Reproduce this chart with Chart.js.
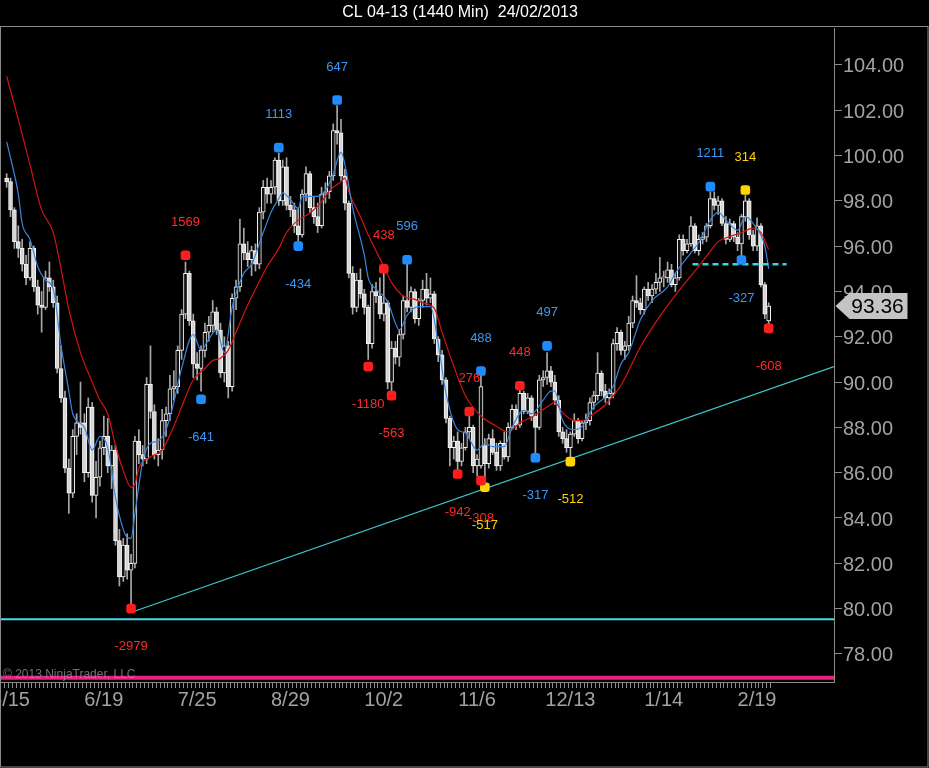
<!DOCTYPE html>
<html lang="en">
<head>
<meta charset="utf-8">
<title>CL 04-13 (1440 Min)</title>
<script src="https://cdn.jsdelivr.net/npm/chart.js@4.4.1/dist/chart.umd.min.js"></script>
<style>
  html, body { margin: 0; padding: 0; background: #000; overflow: hidden; }
</style>
</head>
<body>
<canvas id="chart" width="929" height="768"></canvas>
<script>
// daily bars, index 0 = 5/14/2012 ... 196 = 2/22/2013
const opens = [
  99.0, 98.85, 97.6, 96.2, 95.9, 95.2, 94.6, 95.9, 94.2, 93.4,
  93.3, 94.6, 94.2, 93.5, 90.6, 89.3, 86.2, 85.1, 87.6, 88.2,
  88.2, 86.0, 88.9, 85.0, 85.8, 87.1, 87.6, 86.3, 87.0, 83.0,
  81.4, 82.8, 81.7, 82.0, 87.4, 86.8, 86.6, 89.9, 88.7, 86.8,
  87.0, 88.3, 88.6, 89.7, 89.8, 91.4, 93.0, 94.8, 92.7, 90.8,
  90.6, 91.4, 92.2, 92.5, 93.1, 92.3, 90.4, 91.6, 89.8, 93.7,
  94.2, 96.1, 95.7, 95.4, 95.8, 95.2, 97.5, 98.6, 98.3, 98.6,
  99.8, 98.0, 99.5, 97.8, 97.6, 96.9, 96.5, 98.3, 99.2, 97.7,
  97.3, 96.9, 98.3, 98.4, 99.1, 101.1, 101.0, 99.1, 97.9, 94.8,
  93.3, 94.5, 93.9, 93.3, 91.7, 94.0, 93.8, 93.0, 93.5, 90.0,
  91.5, 91.1, 92.1, 93.6, 93.3, 94.0, 92.8, 93.6, 94.1, 93.7,
  93.9, 91.9, 91.2, 90.1, 88.4, 87.1, 87.4, 86.5, 87.1, 87.8,
  88.0, 86.3, 86.3, 87.2, 86.4, 87.5, 86.9, 86.3, 87.3, 86.7,
  88.0, 88.8, 88.1, 89.5, 88.7, 89.3, 88.5, 88.0, 90.1, 90.2,
  90.5, 90.0, 89.2, 87.8, 87.5, 87.1, 87.7, 88.3, 87.5, 88.2,
  88.3, 89.1, 89.4, 90.4, 89.6, 89.3, 89.5, 91.7, 92.2, 91.4,
  91.6, 92.6, 93.6, 93.5, 93.2, 94.1, 93.8, 94.1, 94.4, 94.6,
  94.6, 94.95, 94.3, 94.6, 96.3, 95.8, 96.1, 96.9, 95.8, 96.3,
  96.4, 96.9, 98.1, 97.8, 98.0, 97.0, 96.3, 97.0, 96.4, 96.1,
  97.3, 98.0, 96.5, 96.0, 96.9, 94.3, 92.7
];
const highs = [
  99.2, 99.0, 97.7, 96.9, 96.3, 95.6, 96.2, 96.0, 94.5, 94.0,
  94.9, 95.3, 94.5, 93.8, 91.6, 89.6, 86.6, 87.9, 88.6, 90.0,
  88.6, 89.3, 89.1, 86.5, 87.4, 88.5, 88.4, 87.2, 87.2, 83.5,
  83.1, 83.3, 82.4, 87.6, 87.9, 87.2, 90.2, 91.6, 89.0, 87.5,
  88.8, 88.9, 90.3, 90.5, 91.6, 93.2, 95.3, 94.9, 93.0, 91.3,
  91.6, 92.6, 92.9, 93.6, 93.3, 92.6, 92.0, 91.8, 93.9, 94.5,
  97.2, 96.8, 96.2, 96.0, 96.1, 97.7, 98.9, 99.0, 98.9, 99.9,
  100.1, 99.8, 99.9, 98.2, 97.9, 97.7, 98.5, 99.5, 99.3, 98.2,
  97.9, 98.6, 98.8, 99.3, 101.4, 102.2, 101.6, 99.4, 98.0, 95.1,
  94.8, 95.0, 94.1, 93.4, 94.3, 94.4, 94.6, 94.8, 93.6, 91.8,
  91.8, 92.3, 93.8, 95.2, 94.2, 94.1, 93.7, 94.5, 94.8, 94.6,
  94.0, 92.0, 91.4, 90.2, 88.5, 87.6, 87.8, 87.3, 88.0, 88.5,
  88.1, 86.8, 90.3, 87.5, 87.7, 87.9, 87.3, 87.4, 87.8, 88.2,
  89.0, 89.0, 89.7, 89.6, 89.5, 89.4, 88.6, 90.3, 90.5, 91.3,
  90.7, 90.3, 89.4, 88.0, 87.9, 87.8, 88.6, 88.4, 88.3, 88.6,
  89.3, 89.6, 91.3, 90.5, 89.9, 89.7, 91.9, 92.4, 92.3, 91.8,
  92.9, 93.8, 94.7, 93.7, 94.2, 94.4, 94.3, 94.8, 95.5, 94.9,
  95.3, 95.2, 94.8, 96.5, 96.5, 96.3, 97.3, 97.0, 96.5, 96.6,
  97.0, 98.4, 98.4, 98.2, 98.1, 97.3, 97.2, 97.1, 96.6, 97.4,
  98.25, 98.1, 96.7, 97.25, 97.0, 94.4, 93.5
];
const lows = [
  98.6, 97.3, 95.9, 95.5, 94.9, 94.3, 94.5, 94.0, 93.0, 92.2,
  93.2, 94.0, 93.3, 90.4, 89.1, 86.0, 84.2, 84.9, 86.8, 87.7,
  85.6, 85.8, 84.7, 84.0, 85.4, 86.8, 86.0, 85.3, 82.8, 81.0,
  81.2, 81.3, 80.1, 81.8, 86.4, 86.3, 86.4, 88.4, 86.6, 86.3,
  86.6, 87.6, 88.3, 89.2, 89.5, 91.0, 92.8, 92.5, 90.2, 90.1,
  89.6, 91.1, 91.8, 92.2, 92.1, 90.2, 90.0, 89.3, 89.6, 93.2,
  94.0, 95.4, 95.1, 94.7, 94.9, 95.0, 97.2, 97.9, 97.9, 98.3,
  97.8, 97.8, 97.6, 97.3, 96.6, 96.2, 96.4, 98.0, 97.5, 97.0,
  96.6, 96.8, 97.9, 98.1, 98.9, 100.5, 98.9, 97.6, 94.6, 93.0,
  93.1, 93.7, 93.0, 91.0, 91.5, 93.5, 92.8, 92.7, 89.7, 89.6,
  90.8, 90.7, 91.9, 93.1, 93.1, 92.6, 92.5, 93.3, 93.4, 93.5,
  91.7, 90.9, 89.9, 88.2, 86.3, 86.6, 86.1, 86.3, 87.0, 87.5,
  86.0, 85.85, 86.2, 85.5, 86.2, 86.8, 86.1, 86.1, 86.6, 86.5,
  87.9, 87.9, 88.0, 88.6, 88.6, 88.3, 86.8, 87.9, 89.8, 89.9,
  89.8, 89.0, 87.6, 87.3, 86.9, 86.65, 87.6, 87.3, 87.4, 87.9,
  88.1, 88.8, 89.2, 89.4, 89.1, 89.0, 89.3, 91.4, 91.2, 91.0,
  91.4, 92.4, 93.3, 93.0, 93.0, 93.6, 93.5, 93.9, 94.0, 94.2,
  94.4, 94.2, 94.0, 94.5, 95.6, 95.7, 96.0, 95.7, 95.6, 96.1,
  96.2, 96.8, 97.6, 97.4, 96.9, 96.1, 96.2, 96.2, 95.8, 95.55,
  97.1, 96.3, 95.8, 95.8, 94.2, 92.8, 92.55
];
const closes = [
  98.85, 97.6, 96.2, 95.9, 95.2, 94.6, 95.9, 94.2, 93.4, 93.3,
  94.6, 94.2, 93.5, 90.6, 89.3, 86.2, 85.1, 87.6, 88.2, 88.0,
  86.0, 88.9, 85.0, 85.8, 87.1, 87.6, 86.3, 87.0, 83.0, 81.4,
  82.8, 81.7, 82.0, 87.4, 86.8, 86.6, 89.9, 88.7, 86.8, 87.0,
  88.3, 88.6, 89.7, 89.8, 91.4, 93.0, 94.8, 92.7, 90.8, 90.6,
  91.4, 92.2, 92.5, 93.1, 92.3, 90.4, 91.6, 89.8, 93.7, 94.2,
  96.1, 95.7, 95.4, 95.8, 95.2, 97.5, 98.6, 98.3, 98.6, 99.8,
  98.0, 99.5, 97.8, 97.6, 96.9, 96.5, 98.3, 99.2, 97.7, 97.3,
  96.9, 98.3, 98.4, 99.1, 101.1, 101.0, 99.1, 97.9, 94.8, 93.3,
  94.5, 93.9, 93.3, 91.7, 94.0, 93.8, 93.0, 93.5, 90.0, 91.5,
  91.1, 92.1, 93.6, 93.3, 94.0, 92.8, 93.6, 94.1, 93.7, 93.9,
  91.9, 91.2, 90.1, 88.4, 87.1, 87.4, 86.5, 87.1, 87.8, 88.0,
  86.3, 86.6, 89.8, 86.4, 87.5, 86.9, 86.3, 87.3, 86.7, 88.0,
  88.8, 88.1, 89.5, 88.7, 89.3, 88.5, 88.0, 90.1, 90.2, 90.5,
  90.0, 89.2, 87.8, 87.5, 87.1, 87.7, 88.3, 87.5, 88.2, 88.3,
  89.1, 89.4, 90.4, 89.6, 89.3, 89.5, 91.7, 92.2, 91.4, 91.6,
  92.6, 93.6, 93.5, 93.2, 94.1, 93.8, 94.1, 94.4, 94.6, 94.6,
  94.95, 94.3, 94.6, 96.3, 95.8, 96.1, 96.9, 95.8, 96.3, 96.4,
  96.9, 98.1, 97.8, 98.0, 97.0, 96.3, 97.0, 96.4, 96.1, 97.3,
  98.0, 96.5, 96.0, 96.9, 94.3, 93.0, 93.36
];

const tickLabels = ['5/15', '6/19', '7/25', '8/29', '10/2', '11/6', '12/13', '1/14', '2/19'];
const tickBars = [1, 25, 49, 73, 97, 121, 145, 169, 193];
const priceTicks = [78, 80, 82, 84, 86, 88, 90, 92, 94, 96, 98, 100, 102, 104];

// moving averages: [bar, value]
const blueMA = [
  [0, 100.6], [1, 99.9], [3, 98.3], [4, 97.0], [6, 96.3], [8, 95.1], [10, 94.5], [12, 94.1],
  [14, 91.6], [16, 89.6], [17, 88.6], [20, 88.0], [22, 87.0], [24, 87.6], [26, 87.1], [28, 84.9],
  [30, 83.5], [31, 83.15], [32, 83.1], [33, 84.2], [35, 86.5], [37, 87.3], [39, 87.4], [41, 87.9],
  [43, 89.1], [45, 90.6], [48, 92.1], [50, 91.4], [52, 91.9], [54, 92.3], [56, 91.3], [58, 93.3],
  [61, 94.8], [63, 95.2], [66, 96.6], [68, 97.5], [70, 98.1], [71, 98.35], [73, 98.05], [75, 97.65],
  [76, 98.2], [80, 98.2], [82, 98.45], [84, 99.2], [86, 100.15], [87, 99.6], [89, 97.7], [92, 95.6],
  [93, 94.6], [95, 94.1], [98, 93.55], [100, 92.6], [101, 92.3], [103, 92.95], [106, 93.33], [109, 93.33],
  [111, 91.7], [113, 89.5], [116, 87.9], [118, 87.75], [121, 87.0], [123, 87.3], [125, 87.15], [128, 87.15],
  [130, 88.0], [133, 88.75], [135, 88.6], [138, 89.2], [140, 89.6], [141, 89.6], [143, 88.3], [146, 87.9],
  [148, 88.03], [151, 88.9], [154, 89.35], [156, 89.8], [158, 90.8], [160, 91.3], [163, 92.75], [166, 93.6],
  [170, 94.2], [172, 94.8], [176, 95.7], [178, 96.15], [181, 97.15], [183, 97.5], [185, 97.15], [188, 96.7],
  [190, 97.3], [192, 97.0], [195, 96.0], [196, 95.0]
];
const redMA = [
  [0, 103.5], [3, 101.6], [6, 99.6], [9, 97.6], [12, 96.6], [14, 95.0], [16, 93.2], [19, 91.3],
  [22, 90.0], [24, 89.2], [26, 88.6], [28, 87.2], [30, 86.1], [32, 85.35], [33, 85.5], [34, 86.2],
  [37, 86.7], [40, 87.0], [43, 88.05], [45, 88.9], [48, 90.1], [51, 90.6], [53, 90.95], [55, 91.05],
  [57, 91.4], [59, 92.2], [62, 93.4], [64, 94.1], [67, 95.1], [70, 95.9], [72, 96.6], [75, 97.15],
  [78, 97.45], [81, 97.95], [83, 98.45], [86, 98.85], [87, 99.0], [88, 98.4], [91, 97.3], [93, 96.5],
  [97, 95.1], [99, 94.4], [102, 93.8], [105, 93.65], [107, 93.5], [110, 93.25], [112, 92.2], [115, 90.7],
  [118, 89.4], [122, 88.5], [126, 88.05], [129, 87.8], [132, 88.2], [135, 88.45], [139, 88.9], [141, 89.1],
  [143, 88.65], [146, 88.3], [148, 88.3], [151, 88.6], [154, 89.0], [158, 89.85], [163, 91.55], [168, 92.9],
  [173, 94.05], [177, 94.9], [180, 95.55], [183, 96.2], [186, 96.42], [189, 96.6], [192, 96.8], [194, 96.6],
  [196, 95.85]
];

// swing markers: [bar, price, text]
const redSwings = [
  [32, 80.0, '-2979'], [46, 95.6, '1569'], [93, 90.68, '-1180'], [97, 95.0, '438'], [99, 89.4, '-563'],
  [116, 85.94, '-942'], [119, 88.7, '276'], [122, 85.65, '-308'], [132, 89.84, '448'], [196, 92.37, '-608']
];
const blueSwings = [
  [50, 89.24, '-641'], [70, 100.35, '1113'], [75, 96.0, '-434'], [85, 102.45, '647'], [103, 95.4, '596'],
  [122, 90.49, '488'], [136, 86.66, '-317'], [139, 91.6, '497'], [181, 98.63, '1211'], [189, 95.39, '-327']
];
const yellowSwings = [
  [123, 85.36, '-517'], [145, 86.49, '-512'], [190, 98.48, '314']
];

// drawn lines
const trendLine = [[32.3, 79.85], [212.8, 90.68]];
const supportLevel = 79.53;
const lowerLevel = 76.95;
const necklineBars = [176.4, 200.6];
const necklinePrice = 95.2;

const FONT = '"Liberation Sans", Arial, sans-serif';
const X_MIN = -1.45, X_MAX = 212.8;
const bars = closes.map((c, i) => i);

const swingSets = [
  { rows: redSwings, color: '#ff1c1c', text: '#ff2a2a' },
  { rows: blueSwings, color: '#1e8cff', text: '#3d96f0' },
  { rows: yellowSwings, color: '#ffd500', text: '#ffd200' }
];

const chartPlugins = {
  id: 'ninjaLook',
  beforeDraw(chart) {
    const ctx = chart.ctx;
    ctx.save();
    ctx.fillStyle = '#000';
    ctx.fillRect(0, 0, chart.width, chart.height);
    ctx.restore();
  },
  afterDatasetsDraw(chart) {
    const ctx = chart.ctx;
    const xs = chart.scales.x, ys = chart.scales.y;
    ctx.save();
    // copyright
    ctx.font = '12px ' + FONT;
    ctx.fillStyle = 'rgba(150,150,150,0.75)';
    ctx.textAlign = 'left';
    ctx.textBaseline = 'middle';
    ctx.fillText('\u00A9 2013 NinjaTrader, LLC', 3, 675);
    // swing labels
    ctx.font = '13px ' + FONT;
    ctx.textAlign = 'center';
    swingSets.forEach(set => {
      ctx.fillStyle = set.text;
      set.rows.forEach(r => {
        const px = xs.getPixelForValue(r[0]);
        const py = ys.getPixelForValue(r[1]);
        const low = r[2].charAt(0) === '-';
        ctx.fillText(r[2], px, low ? py + 38 : py - 33);
      });
    });
    ctx.restore();
  },
  afterDraw(chart) {
    const ctx = chart.ctx;
    const ys = chart.scales.y;
    ctx.save();
    // title
    ctx.font = '16px ' + FONT;
    ctx.fillStyle = '#ffffff';
    ctx.textAlign = 'center';
    ctx.textBaseline = 'middle';
    ctx.fillText('CL 04-13 (1440 Min)  24/02/2013', 460, 13);
    // frame
    ctx.strokeStyle = '#8a8a8a';
    ctx.lineWidth = 1;
    ctx.strokeRect(0.5, 26.5, 927.5, 740.5);
    // last price marker
    const last = closes[closes.length - 1];
    const y = ys.getPixelForValue(last);
    const x0 = ys.left + 1.5;
    ctx.fillStyle = '#c4c4c4';
    ctx.beginPath();
    ctx.moveTo(x0, y);
    ctx.lineTo(x0 + 14, y - 13);
    ctx.lineTo(x0 + 72, y - 13);
    ctx.lineTo(x0 + 72, y + 13);
    ctx.lineTo(x0 + 14, y + 13);
    ctx.closePath();
    ctx.fill();
    ctx.fillStyle = '#000';
    ctx.font = '21px ' + FONT;
    ctx.fillText(last.toFixed(2), x0 + 42, y + 1);
    ctx.restore();
  }
};

const swingDatasets = swingSets.map(set => ({
  type: 'scatter',
  data: set.rows.map(r => ({ x: r[0], y: r[1] })),
  pointStyle: 'rectRounded',
  pointRadius: 5.6,
  pointBackgroundColor: set.color,
  pointBorderWidth: 0,
  order: 0
}));

new Chart(document.getElementById('chart'), {
  type: 'bar',
  data: {
    datasets: [
      {
        label: 'wick',
        data: bars.map(i => ({ x: i, y: [lows[i], highs[i]] })),
        backgroundColor: '#a8a8a8',
        barThickness: 1,
        grouped: false,
        order: 9
      },
      {
        label: 'body',
        data: bars.map(i => ({ x: i, y: [opens[i], closes[i]] })),
        backgroundColor: bars.map(i => closes[i] >= opens[i] ? '#111111' : '#d6d6d6'),
        borderColor: '#f4f4f4',
        borderWidth: 1,
        borderSkipped: false,
        barThickness: 4,
        minBarLength: 1,
        grouped: false,
        order: 8
      },
      {
        type: 'line',
        label: 'slow',
        data: redMA.map(p => ({ x: p[0], y: p[1] })),
        borderColor: '#d41414',
        borderWidth: 1.2,
        pointRadius: 0,
        cubicInterpolationMode: 'monotone',
        order: 4
      },
      {
        type: 'line',
        label: 'fast',
        data: blueMA.map(p => ({ x: p[0], y: p[1] })),
        borderColor: '#3b86dc',
        borderWidth: 1.2,
        pointRadius: 0,
        cubicInterpolationMode: 'monotone',
        order: 3
      },
      {
        type: 'line',
        label: 'trend',
        data: trendLine.map(p => ({ x: p[0], y: p[1] })),
        borderColor: '#3cc9cf',
        borderWidth: 1.3,
        pointRadius: 0,
        order: 2
      },
      {
        type: 'line',
        label: 'support',
        data: [{ x: X_MIN, y: supportLevel }, { x: X_MAX, y: supportLevel }],
        borderColor: '#44dce6',
        borderWidth: 2,
        pointRadius: 0,
        order: 2
      },
      {
        type: 'line',
        label: 'lower',
        data: [{ x: X_MIN, y: lowerLevel }, { x: X_MAX, y: lowerLevel }],
        borderColor: '#ea1f80',
        borderWidth: 4,
        pointRadius: 0,
        order: 2
      },
      {
        type: 'line',
        label: 'neckline',
        data: necklineBars.map(b => ({ x: b, y: necklinePrice })),
        borderColor: '#33d6e6',
        borderWidth: 2.5,
        borderDash: [6, 4],
        pointRadius: 0,
        order: 2
      },
      ...swingDatasets
    ]
  },
  options: {
    responsive: false,
    animation: false,
    devicePixelRatio: 1,
    layout: { autoPadding: false, padding: { top: 28, left: 1, right: 0, bottom: 0 } },
    plugins: {
      legend: { display: false },
      title: { display: false },
      tooltip: { enabled: false }
    },
    scales: {
      x: {
        type: 'linear',
        position: 'bottom',
        min: X_MIN,
        max: X_MAX,
        offset: false,
        grid: { drawOnChartArea: false, drawTicks: true, tickLength: 6, color: '#8c8c8c' },
        border: { display: true, color: '#8c8c8c' },
        ticks: {
          autoSkip: false,
          maxRotation: 0,
          padding: 0,
          color: '#a2a2a2',
          font: { family: FONT, size: 20 },
          callback(value) {
            const k = tickBars.indexOf(value);
            return k >= 0 ? tickLabels[k] : '';
          }
        },
        afterBuildTicks(scale) {
          scale.ticks = bars.map(i => ({ value: i }));
        },
        afterFit(scale) {
          scale.height = 86;
          scale.paddingLeft = 0;
          scale.paddingRight = 0;
        }
      },
      y: {
        type: 'linear',
        position: 'right',
        min: 76.76,
        max: 105.63,
        grid: { drawOnChartArea: false, drawTicks: true, tickLength: 8, color: '#8c8c8c' },
        border: { display: true, color: '#8c8c8c' },
        ticks: {
          padding: 1,
          labelOffset: 2,
          color: '#a2a2a2',
          font: { family: FONT, size: 20 },
          callback: v => v.toFixed(2)
        },
        afterBuildTicks(scale) {
          scale.ticks = priceTicks.map(v => ({ value: v }));
        },
        afterFit(scale) {
          scale.width = 95;
          scale.paddingTop = 0;
          scale.paddingBottom = 0;
        }
      }
    }
  },
  plugins: [chartPlugins]
});
</script>
</body>
</html>
